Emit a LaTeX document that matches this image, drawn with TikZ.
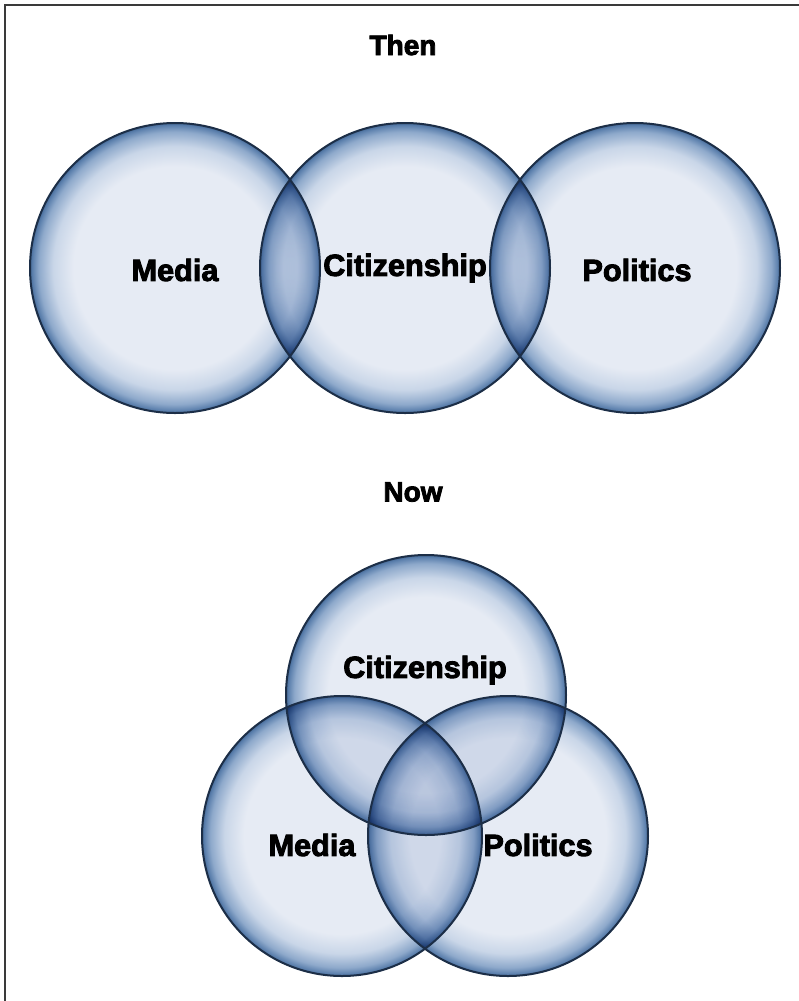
\documentclass[tikz,border=0pt]{standalone}
\usepackage{fontspec}
\setmainfont{Liberation Sans}[BoldFeatures={FakeBold=3}]

\definecolor{rimin}{HTML}{E6EBF4}
\definecolor{rimmid}{HTML}{C9D6E8}
\definecolor{rimdark}{HTML}{8EA9CB}
\definecolor{rimdeep}{HTML}{5C80AD}
\definecolor{rimout}{HTML}{466B99}
\definecolor{rimline}{HTML}{1C2E47}
\definecolor{framegray}{HTML}{3A3A3A}

% flat inside, darkening only near the rim
\pgfdeclareradialshading{rim}{\pgfpoint{0bp}{0bp}}{%
  color(0bp)=(rimin); color(17.5bp)=(rimin); color(21bp)=(rimmid);
  color(23.5bp)=(rimdark); color(24.6bp)=(rimdeep); color(25bp)=(rimout);
  color(50bp)=(rimout)}

\tikzset{
  ringfill/.style={shading=rim},
  ringline/.style={draw=rimline, line width=1.5pt},
  setlabel/.style={font=\fontsize{23}{27}\selectfont\bfseries, inner sep=0pt},
  heading/.style={font=\fontsize{21}{25}\selectfont\bfseries, inner sep=0pt},
  frameline/.style={draw=framegray, line width=1.5pt}
}

\begin{document}
\begin{tikzpicture}[x=0.75pt,y=-0.75pt]
  \useasboundingbox (0,0) rectangle (799,1001);
  \draw[frameline] (5,1001) -- (5,5) -- (799,5);

  % then: three sets in a row
  \node[heading] (then) at (403,45) {Then};
  \coordinate (tmedia) at (175,268);
  \coordinate (tcitizen) at (405,268);
  \coordinate (tpolitics) at (635,268);

  % now: three sets overlapping in the middle
  \node[heading] (now) at (413,492) {Now};
  \coordinate (ncitizen) at (426,695);
  \coordinate (nmedia) at (342,836);
  \coordinate (npolitics) at (508,836);

  \begin{scope}[blend mode=multiply]
    \foreach \c in {tmedia,tcitizen,tpolitics}
      \shade[ringfill] (\c) circle[radius=145];
    \foreach \c in {ncitizen,nmedia,npolitics}
      \shade[ringfill] (\c) circle[radius=140];
  \end{scope}

  \foreach \c in {tmedia,tcitizen,tpolitics}
    \draw[ringline] (\c) circle[radius=145];
  \foreach \c in {ncitizen,nmedia,npolitics}
    \draw[ringline] (\c) circle[radius=140];

  \node[setlabel] (tmedialbl) at (175,270) {Media};
  \node[setlabel] (tcitizenlbl) at (405,268) {Citizenship};
  \node[setlabel] (tpoliticslbl) at (637,270) {Politics};

  \node[setlabel] (ncitizenlbl) at (425,670) {Citizenship};
  \node[setlabel] (nmedialbl) at (312,845) {Media};
  \node[setlabel] (npoliticslbl) at (538,845) {Politics};
\end{tikzpicture}
\end{document}
